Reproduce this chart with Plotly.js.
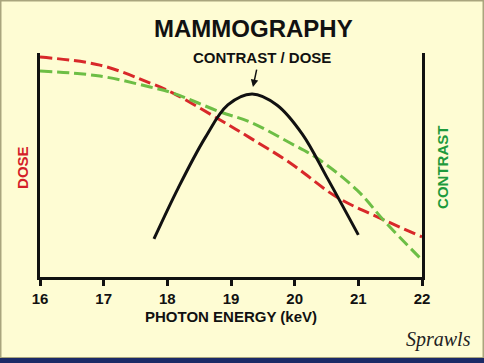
<!DOCTYPE html>
<html>
<head>
<meta charset="utf-8">
<script src="https://cdn.plot.ly/plotly-3.0.1.min.js"></script>
<style>
html,body{margin:0;padding:0;background:#FEFCD3;}
#chart{width:484px;height:363px;}
</style>
</head>
<body>
<div id="chart"></div>
<script>
// Photon energy (keV) and relative values (0-100)
const doseX = [16.0, 16.94, 17.73, 18.09, 18.83, 19.30, 19.93, 20.66, 21.34, 22.0];
const doseY = [98.2, 94.6, 86.6, 82.1, 70.1, 62.1, 50.9, 35.7, 26.3, 17.9];

const contrastX = [16.0, 16.94, 17.73, 18.09, 18.83, 19.30, 19.93, 20.35, 20.98, 21.42, 22.0];
const contrastY = [92.0, 89.7, 84.8, 82.1, 73.7, 69.2, 59.8, 53.1, 38.8, 24.6, 7.6];

const ratioX = [17.79, 18.17, 18.59, 18.95, 19.33, 19.72, 20.12, 20.52, 21.00];
const ratioY = [17.0, 39.7, 62.0, 76.8, 81.7, 76.8, 63.8, 43.8, 18.8];

const tickValues = [16, 17, 18, 19, 20, 21, 22];
const tickLabels = ['16', '17', '18', '19', '20', '21', '22'];

const peakX = 19.345, peakY = 84.8;

const FONT = 'Liberation Sans, Arial, sans-serif';
const bg = '#FEFCD3';

const traces = [
  {x: doseX, y: doseY, mode: 'lines', line: {color: '#D8282A', width: 3, dash: '12px,5px', shape: 'spline'}, hoverinfo: 'skip'},
  {x: contrastX, y: contrastY, mode: 'lines', line: {color: '#6DBE45', width: 3, dash: '12px,5px', shape: 'spline'}, hoverinfo: 'skip'},
  {x: ratioX, y: ratioY, mode: 'lines', line: {color: '#111111', width: 3, shape: 'spline'}, hoverinfo: 'skip'}
];

const layout = {
  width: 484, height: 363,
  margin: {l: 40, r: 62, t: 53, b: 86},
  paper_bgcolor: bg, plot_bgcolor: bg,
  showlegend: false,
  font: {family: FONT, color: '#111'},
  xaxis: {
    range: [16, 22], tickvals: tickValues, ticktext: tickLabels.map(t => '<b>' + t + '</b>'),
    showline: true, linewidth: 3, linecolor: '#111', ticks: 'outside', ticklen: 6, tickwidth: 3, tickcolor: '#111',
    showgrid: false, zeroline: false, tickfont: {size: 15, family: FONT, color: '#111'},
    title: {text: '<b>PHOTON ENERGY (keV)</b>', font: {size: 15, family: FONT, color: '#111'}, standoff: 6}
  },
  yaxis: {
    range: [0, 100], showline: true, mirror: true, linewidth: 3, linecolor: '#111',
    showticklabels: false, ticks: '', showgrid: false, zeroline: false
  },
  shapes: [
    {type: 'rect', xref: 'paper', yref: 'paper', x0: -0.1034, x1: 1.1610, y0: -0.3616, y1: 1.2344,
     line: {color: '#A9A57E', width: 2}, fillcolor: 'rgba(0,0,0,0)', layer: 'above'},
    {type: 'rect', xref: 'paper', yref: 'paper', x0: -0.1047, x1: 1.1623, y0: -0.3839, y1: -0.3616,
     line: {width: 0}, fillcolor: '#1B2A66', layer: 'above'}
  ],
  annotations: [
    {xref: 'paper', yref: 'paper', x: 0.560, y: 1.1116, text: '<b>MAMMOGRAPHY</b>', showarrow: false,
     font: {size: 24, family: FONT, color: '#111'}, xanchor: 'center', yanchor: 'middle'},
    {xref: 'paper', yref: 'paper', x: 0.581, y: 0.978, text: '<b>CONTRAST / DOSE</b>', showarrow: false,
     font: {size: 15, family: FONT, color: '#111'}, xanchor: 'center', yanchor: 'middle'},
    {x: peakX, y: peakY, xref: 'x', yref: 'y', text: '', showarrow: true, ax: 4, ay: -19,
     arrowhead: 2, arrowsize: 1, arrowwidth: 1.5, arrowcolor: '#111'},
    {xref: 'paper', yref: 'paper', x: -0.0445, y: 0.487, text: '<b>DOSE</b>', showarrow: false, textangle: -90,
     font: {size: 15, family: FONT, color: '#D42027'}, xanchor: 'center', yanchor: 'middle'},
    {xref: 'paper', yref: 'paper', x: 1.052, y: 0.491, text: '<b>CONTRAST</b>', showarrow: false, textangle: -90,
     font: {size: 15, family: FONT, color: '#1E9A3C'}, xanchor: 'center', yanchor: 'middle'},
    {xref: 'paper', yref: 'paper', x: 1.0445, y: -0.281, text: '<i>Sprawls</i>', showarrow: false,
     font: {size: 20, family: 'Liberation Serif, DejaVu Serif, serif', color: '#222'}, xanchor: 'center', yanchor: 'middle'}
  ]
};

Plotly.newPlot('chart', traces, layout, {displayModeBar: false, staticPlot: true});
</script>
</body>
</html>
